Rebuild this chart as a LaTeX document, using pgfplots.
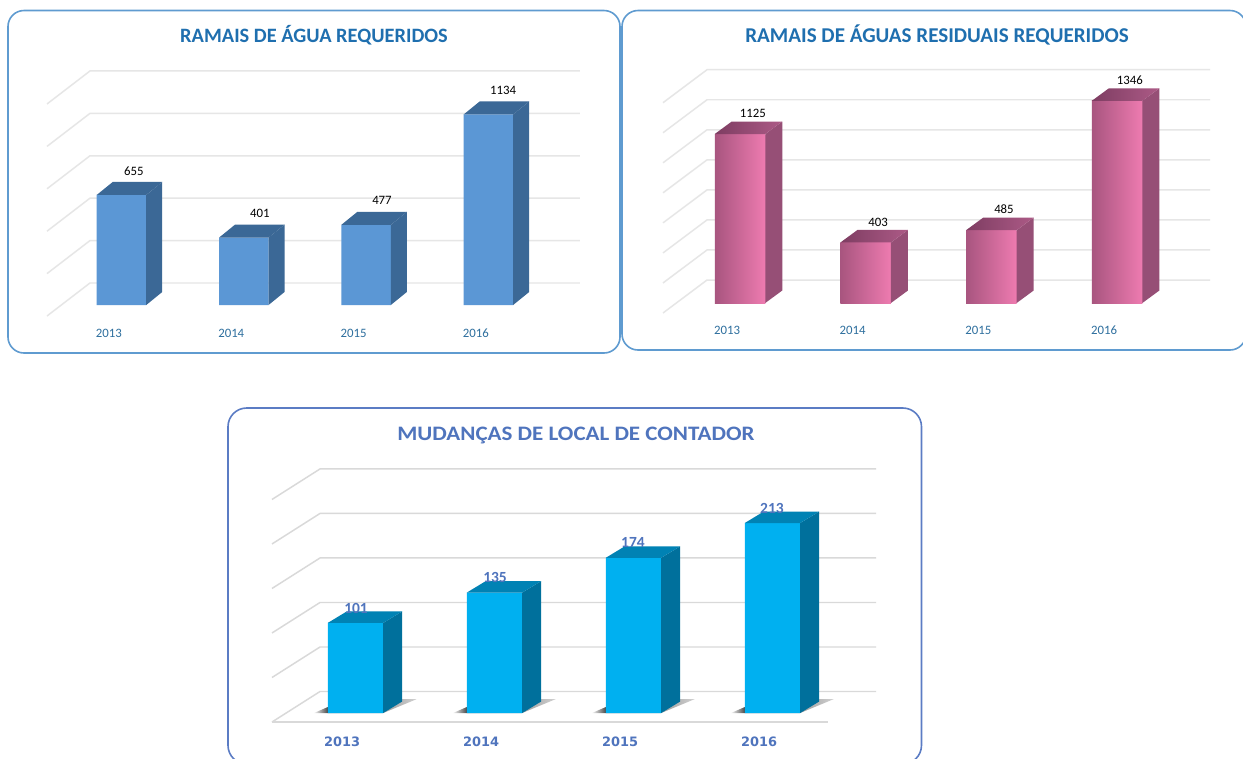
\documentclass[border=0pt]{standalone}
\usepackage{fontspec}
\setmainfont{Carlito}
\newfontfamily\widefont{DejaVu Sans}
\usepackage{pgfplots}
\usepackage{pgfplotstable}
\pgfplotsset{compat=1.18}

% colours
\definecolor{frameA}{HTML}{5F9BD0}
\definecolor{frameC}{HTML}{5B7CC4}
\definecolor{titleA}{HTML}{1F6FAF}
\definecolor{titleC}{HTML}{4F74BD}
\definecolor{tickA}{HTML}{2E6F9E}
\definecolor{gridA}{HTML}{E6E6E6}
\definecolor{gridC}{HTML}{D9D9D9}
\definecolor{blueF}{HTML}{5B97D5}
\definecolor{blueS}{HTML}{3B6896}
\definecolor{pinkL}{HTML}{A8557F}
\definecolor{pinkR}{HTML}{EE7BB0}
\definecolor{pinkS}{HTML}{964F76}
\definecolor{pinkT}{HTML}{7E3D62}
\definecolor{pinkU}{HTML}{AC5A86}
\definecolor{cyanF}{HTML}{00B0F0}
\definecolor{cyanS}{HTML}{00709C}
\definecolor{cyanT}{HTML}{0082B4}
\definecolor{shadowC}{HTML}{4A4A4A}

% data: bar index, x of the value label, value
\pgfplotstableread{
i lx v
0 0.102 655
1 1.132 401
2 2.130 477
3 3.120 1134
}\tabA
\pgfplotstableread{
i lx v
0 0.103 1125
1 1.098 403
2 2.100 485
3 3.102 1346
}\tabB
\pgfplotstableread{
i lx v
0 0.004 101
1 1.004 135
2 1.996 174
3 2.996 213
}\tabC

\pgfplotsset{panel/.style={
    clip=false,
    hide y axis,
    axis x line=bottom,
    x axis line style={draw=none,-},
    xtick={0,1,2,3},
    xticklabels={2013,2014,2015,2016},
    tick style={draw=none},
    major tick length=0pt,
    /pgf/number format/fixed,
    /pgf/number format/1000 sep={},
    /pgf/number format/assume math mode=true,
}}

% side and top faces of one bar: index, value
\newcommand{\faces}[2]{%
  \pgfmathsetmacro\xl{#1-\hw}\pgfmathsetmacro\xr{#1+\hw}%
  \pgfmathsetmacro\xld{\xl+\ddx}\pgfmathsetmacro\xrd{\xr+\ddx}%
  \pgfmathsetmacro\vd{#2+\ddy}%
  \edef\tmp{\noexpand\addplot[sideface] coordinates {(\xr,0)(\xrd,\ddy)(\xrd,\vd)(\xr,#2)} --cycle;
    \noexpand\addplot[topface] coordinates {(\xl,#2)(\xr,#2)(\xrd,\vd)(\xld,\vd)} --cycle;}\tmp}

% back wall lines: count-1, front x, back x, right x, first front y, first back y, step
\newcommand{\walls}[7]{%
  \pgfplotsforeachungrouped \k in {0,...,#1}{%
    \pgfmathsetmacro\yf{#5+\k*#7}\pgfmathsetmacro\yb{#6+\k*#7}%
    \edef\tmp{\noexpand\addplot[wall] coordinates {(#2,\yf)(#3,\yb)(#4,\yb)};}\tmp}}

% floor shadow of one bar in the third panel: index
\newcommand{\shadow}[1]{%
  \pgfmathsetmacro\sa{#1-0.2986}\pgfmathsetmacro\sb{#1-0.1993}%
  \pgfmathsetmacro\sc{#1+0.1993}\pgfmathsetmacro\sd{#1+0.4424}\pgfmathsetmacro\se{#1+0.3417}%
  \edef\tmp{\noexpand\addplot[left color=shadowC!5,right color=shadowC,draw=none] coordinates {(\sa,0)(\sb,0)(\sb,6.7)} --cycle;
    \noexpand\addplot[left color=shadowC,middle color=shadowC,right color=shadowC!25,draw=none] coordinates {(\sb,0)(\sc,0)(\sd,15.7)(\se,15.7)(\sb,6.7)} --cycle;}\tmp}

\begin{document}
\begin{tikzpicture}[x=0.75pt,y=-0.75pt]
\useasboundingbox (0,0) rectangle (1243,758);
\clip (0,0) rectangle (1243,758);

% panel frames
\draw[frameA,line width=1.2pt,fill=white,rounded corners=12pt] (8,10.5) rectangle (620,353);
\draw[frameA,line width=1.2pt,fill=white,rounded corners=12pt] (622,10.5) rectangle (1246,350);
\draw[frameC,line width=1.2pt,fill=white,rounded corners=14pt] (228,408) rectangle (921.5,764);

\node[text=titleA,font=\fontsize{15.3pt}{17pt}\selectfont\bfseries] at (314,35) {RAMAIS DE ÁGUA REQUERIDOS};
\node[text=titleA,font=\fontsize{15.8pt}{17pt}\selectfont\bfseries] at (937,35) {RAMAIS DE ÁGUAS RESIDUAIS REQUERIDOS};
\node[text=titleC,xscale=1.12,font=\fontsize{15.4pt}{17pt}\selectfont\bfseries] at (576,435) {MUDANÇAS DE LOCAL DE CONTADOR};

% --- panel A: water connections ---
\tikzset{wall/.style={gridA,line width=1.1pt},
  sideface/.style={fill=blueS,draw=none},
  topface/.style={fill=blueS,draw=none}}
\begin{axis}[panel,
    at={(35.25pt,-237pt)},anchor=south west,
    x=91.725pt,y=0.126pt,
    xmin=-0.609,xmax=3.749,ymin=-65.5,ymax=1458,
    xticklabel style={font=\fontsize{9.6pt}{11pt}\selectfont,text=tickA,anchor=center,xshift=-9.4pt,yshift=-12.75pt},
]
\def\hw{0.2024}\def\ddx{0.1308}\def\ddy{77.4}
\walls{5}{-0.609}{-0.2576}{3.749}{-65.5}{131}{252.4}
\addplot[draw=none,nodes near coords={\pgfmathprintnumber{\pgfplotspointmeta}},point meta=y,
  every node near coord/.append style={anchor=center,yshift=18pt,font=\fontsize{9.6pt}{11pt}\selectfont,text=black}]
  table[x=lx,y=v]{\tabA};
\addplot[ybar,bar width=0.4047,fill=blueF,draw=none] table[x=i,y=v]{\tabA};
\faces{0}{655}\faces{1}{401}\faces{2}{477}\faces{3}{1134}
\end{axis}

% --- panel B: waste water connections ---
\tikzset{sideface/.style={fill=pinkS,draw=none},
  topface/.style={left color=pinkT,right color=pinkU,draw=none},
  pinkfront/.style={ybar,bar width=0.4018,left color=pinkL,right color=pinkR,draw=none}}
\begin{axis}[panel,
    at={(497.25pt,-234.75pt)},anchor=south west,
    x=94.275pt,y=0.11265pt,
    xmin=-0.6126,xmax=3.739,ymin=-66.6,ymax=1618,
    xticklabel style={font=\fontsize{9.6pt}{11pt}\selectfont,text=tickA,anchor=center,xshift=-9.75pt,yshift=-12.75pt},
]
\def\hw{0.2009}\def\ddx{0.1352}\def\ddy{83.2}
\walls{7}{-0.6126}{-0.2625}{3.739}{-66.6}{153}{200}
\addplot[draw=none,nodes near coords={\pgfmathprintnumber{\pgfplotspointmeta}},point meta=y,
  every node near coord/.append style={anchor=center,yshift=15.4pt,font=\fontsize{9.6pt}{11pt}\selectfont,text=black}]
  table[x=lx,y=v]{\tabB};
% one plot per bar, so that the shading runs across each bar
\addplot[pinkfront] coordinates {(0,1125)};
\addplot[pinkfront] coordinates {(1,403)};
\addplot[pinkfront] coordinates {(2,485)};
\addplot[pinkfront] coordinates {(3,1346)};
\faces{0}{1125}\faces{1}{403}\faces{2}{485}\faces{3}{1346}
\end{axis}

% --- panel C: meter relocations ---
\tikzset{wall/.style={gridC,line width=1.1pt},
  sideface/.style={fill=cyanS,draw=none},
  topface/.style={fill=cyanT,draw=none}}
\begin{axis}[panel,
    at={(204pt,-541.5pt)},anchor=south west,
    x=104.25pt,y=0.669pt,
    xmin=-0.6007,xmax=3.745,ymin=-10.09,ymax=283.6,
    xticklabel style={font=\widefont\fontsize{9.7pt}{12pt}\selectfont\bfseries,text=titleC,anchor=center,xshift=-10pt,yshift=-15pt},
]
\def\hw{0.1993}\def\ddx{0.1367}\def\ddy{12.9}
\walls{5}{-0.6007}{-0.2554}{3.745}{-10.09}{24.1}{49.9}
\addplot[wall] coordinates {(-0.6007,-10.09)(3.399,-10.09)};
\shadow{0}\shadow{1}\shadow{2}\shadow{3}
\addplot[draw=none,nodes near coords={\pgfmathprintnumber{\pgfplotspointmeta}},point meta=y,
  every node near coord/.append style={anchor=center,yshift=11.2pt,font=\fontsize{11.6pt}{12pt}\selectfont\bfseries,text=titleC}]
  table[x=lx,y=v]{\tabC};
\addplot[ybar,bar width=0.3986,fill=cyanF,draw=none] table[x=i,y=v]{\tabC};
\faces{0}{101}\faces{1}{135}\faces{2}{174}\faces{3}{213}
\end{axis}
\end{tikzpicture}
\end{document}
